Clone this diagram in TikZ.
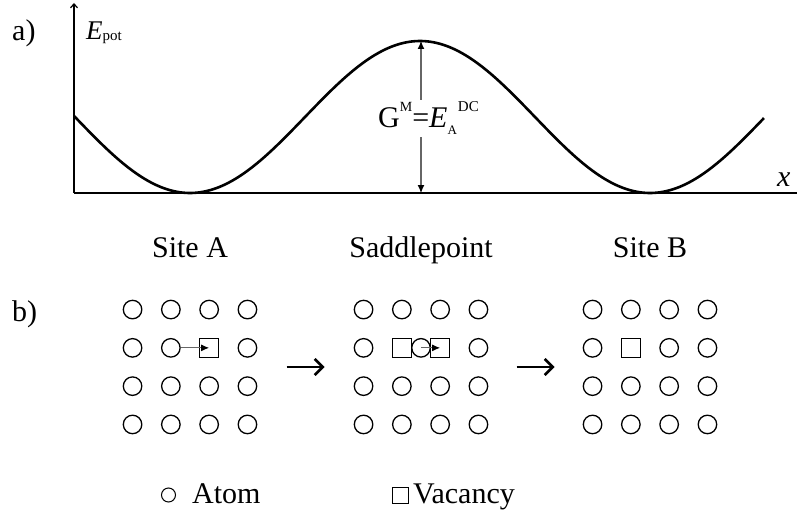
\documentclass[tikz,border=0pt]{standalone}
\usepackage{fontspec}
\setmainfont{Liberation Serif}
\usetikzlibrary{arrows.meta,calc}

\begin{document}
\begin{tikzpicture}[x=1pt, y=-1pt,
  lbl/.style={font=\fontsize{30}{36}\selectfont, inner sep=0pt},
  atom/.style={circle, draw, line width=1.3pt, minimum size=18.5pt, inner sep=0pt},
  vac/.style={rectangle, draw, line width=1.3pt, minimum size=19pt, inner sep=0pt},
  jump/.style={draw=black!60, line width=1.1pt, -{Latex[length=8pt,width=7pt,color=black]}},
  stepto/.style={line width=2.6pt, -{Straight Barb[length=8pt,width=16pt,line width=2.6pt]}},
  axis/.style={line width=1.2pt},
  curve/.style={line width=2.6pt}]
\useasboundingbox (0,0) rectangle (797,524);

% Energy profile
\coordinate (origin) at (74,193);
\coordinate (ytop) at (74,3);
\coordinate (xend) at (797,193);
\coordinate (peak) at (421,41);
\coordinate (foot) at (421,193);
\draw[axis, -{Straight Barb[length=4pt,width=7pt]}] (origin) -- (ytop);
\draw[axis] (origin) -- (xend);
\draw[curve] plot[domain=74:764, samples=150, smooth] (\x, {117+76*cos(0.782609*(\x-190))});
\draw[jump, {Latex[length=8pt,width=7pt,color=black]}-{Latex[length=8pt,width=7pt,color=black]}] (peak) -- (foot);
\node[lbl, anchor=base west, fill=white, inner ysep=2pt] (gm) at (378,128)
  {G\raisebox{16pt}{\fontsize{14}{14}\selectfont M}=\textit{E}\raisebox{-7pt}{\fontsize{13}{13}\selectfont A}\hspace{1pt}\raisebox{16pt}{\fontsize{15}{15}\selectfont DC}};
\node[lbl, anchor=base west] (la) at (12,41) {a)};
\node[lbl, anchor=base west, font=\fontsize{27}{30}\selectfont] (epot) at (86,40)
  {\textit{E}\raisebox{-1pt}{\fontsize{15}{15}\selectfont pot}};
\node[lbl, anchor=base west, font=\fontsize{30}{36}\selectfont] (xlab) at (777,186) {\textit{x}};

% States
\node[lbl, anchor=base] (sitea) at (190,257) {Site A};
\node[lbl, anchor=base] (saddle) at (421,257) {Saddlepoint};
\node[lbl, anchor=base] (siteb) at (650,257) {Site B};
\node[lbl, anchor=base west] (lb) at (12,321) {b)};

% Lattice positions
\foreach \cx/\g in {190/a, 421/s, 650/b}
  \foreach \r in {1,...,4}
    \foreach \c in {1,...,4}
      \coordinate (p\g\r\c) at ({\cx+(\c-2.5)*38.3}, {367+(\r-2.5)*38.3});

% Full rows
\foreach \g in {a,s,b}
  \foreach \r in {1,3,4}
    \foreach \c in {1,...,4}
      \node[atom] (\g\r\c) at (p\g\r\c) {};

% Site A row
\node[atom] (a21) at (pa21) {};
\node[atom] (a22) at (pa22) {};
\node[vac] (a23) at (pa23) {};
\node[atom] (a24) at (pa24) {};
\draw[jump] (a22.east) -- (a23.center);

% Saddlepoint row
\node[atom] (s21) at (ps21) {};
\node[vac] (s22) at (ps22) {};
\node[vac] (s23) at (ps23) {};
\node[atom] (smid) at ($(ps22)!0.5!(ps23)$) {};
\node[atom] (s24) at (ps24) {};
\draw[jump] (smid.center) -- (s23.center);

% Site B row
\node[atom] (b21) at (pb21) {};
\node[vac] (b22) at (pb22) {};
\node[atom] (b23) at (pb23) {};
\node[atom] (b24) at (pb24) {};

% Steps
\coordinate (m1) at ($(pa24)!0.5!(ps31)$);
\coordinate (m2) at ($(ps24)!0.5!(pb31)$);
\draw[stepto] ([xshift=-19pt]m1) -- ([xshift=19pt]m1);
\draw[stepto] ([xshift=-19pt]m2) -- ([xshift=19pt]m2);

% Legend
\node[atom, line width=1pt, minimum size=14pt] (atomkey) at (168.5,495) {};
\node[lbl, anchor=base west] (atomtxt) at (192,503) {Atom};
\node[vac, line width=1pt, minimum size=16pt] (vackey) at (400,495) {};
\node[lbl, anchor=base west] (vactxt) at (413,503) {Vacancy};
\end{tikzpicture}
\end{document}
